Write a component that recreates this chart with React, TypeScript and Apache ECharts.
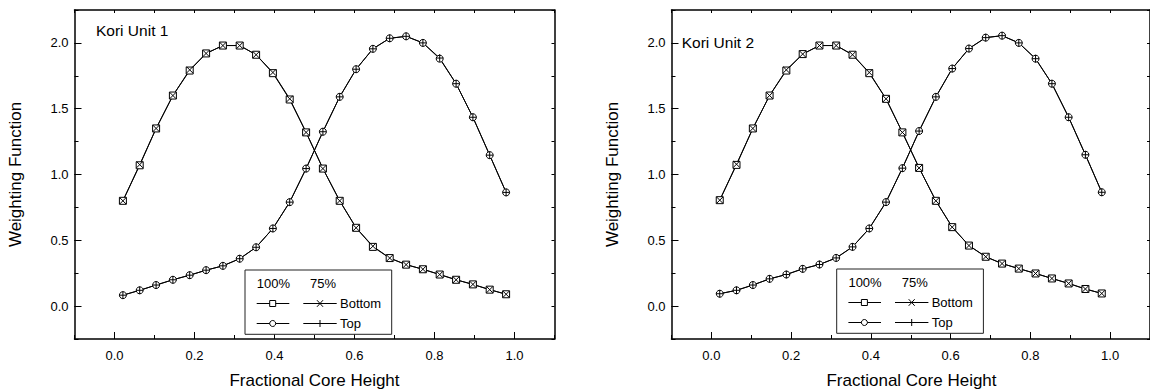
import React, { useEffect, useRef } from "react";
import * as echarts from "echarts";

// Fractional core height of each of the 24 axial nodes
const heights = [
  0.021, 0.063, 0.104, 0.146, 0.188, 0.229, 0.271, 0.313, 0.354, 0.396, 0.438, 0.479,
  0.521, 0.563, 0.604, 0.646, 0.688, 0.729, 0.771, 0.813, 0.854, 0.896, 0.938, 0.979,
];

// Kori Unit 1
const unit1Bottom100 = [0.8, 1.07, 1.35, 1.6, 1.79, 1.92, 1.98, 1.98, 1.91, 1.77, 1.57, 1.32, 1.045, 0.8, 0.595, 0.45, 0.365, 0.315, 0.28, 0.24, 0.2, 0.165, 0.125, 0.09];
const unit1Bottom75 = [0.8, 1.075, 1.35, 1.6, 1.795, 1.92, 1.98, 1.98, 1.91, 1.775, 1.575, 1.32, 1.045, 0.8, 0.595, 0.455, 0.365, 0.315, 0.28, 0.24, 0.2, 0.165, 0.125, 0.09];
const unit1Top100 = [0.083, 0.12, 0.16, 0.2, 0.235, 0.273, 0.306, 0.36, 0.447, 0.59, 0.79, 1.045, 1.325, 1.59, 1.8, 1.955, 2.035, 2.05, 2.0, 1.88, 1.69, 1.435, 1.147, 0.864];
const unit1Top75 = [0.083, 0.12, 0.16, 0.2, 0.235, 0.273, 0.306, 0.36, 0.447, 0.59, 0.79, 1.045, 1.325, 1.59, 1.8, 1.955, 2.035, 2.05, 2.0, 1.885, 1.69, 1.435, 1.147, 0.864];

// Kori Unit 2
const unit2Bottom100 = [0.805, 1.073, 1.35, 1.6, 1.79, 1.915, 1.98, 1.98, 1.91, 1.77, 1.575, 1.32, 1.05, 0.8, 0.6, 0.46, 0.375, 0.323, 0.285, 0.248, 0.21, 0.172, 0.13, 0.096];
const unit2Bottom75 = [0.805, 1.078, 1.35, 1.6, 1.795, 1.915, 1.98, 1.98, 1.91, 1.775, 1.575, 1.32, 1.05, 0.8, 0.6, 0.46, 0.375, 0.323, 0.285, 0.248, 0.21, 0.172, 0.13, 0.096];
const unit2Top100 = [0.094, 0.12, 0.16, 0.207, 0.24, 0.283, 0.316, 0.366, 0.45, 0.59, 0.79, 1.048, 1.33, 1.59, 1.805, 1.957, 2.04, 2.055, 2.0, 1.88, 1.69, 1.435, 1.15, 0.865];
const unit2Top75 = [0.094, 0.12, 0.16, 0.207, 0.24, 0.283, 0.316, 0.366, 0.45, 0.59, 0.79, 1.048, 1.33, 1.59, 1.805, 1.957, 2.04, 2.055, 2.0, 1.88, 1.69, 1.435, 1.15, 0.865];

const xTickLabels = [0, 0.2, 0.4, 0.6, 0.8, 1.0];
const yTickLabels = [0, 0.5, 1.0, 1.5, 2.0];
const panelTitles = ["Kori Unit 1", "Kori Unit 2"];
const legendHeader = ["100%", "75%"];
const legendRows = ["Bottom", "Top"];
const xTitle = "Fractional Core Height";
const yTitle = "Weighting Function";

const FONT = '"Liberation Sans", Arial, Helvetica, sans-serif';
const BLACK = "#000";

const panels = [
  { left: 74.5, title: panelTitles[0], tx: 96, ty: 30.5, lx: 245, ly: 270, data: [unit1Bottom100, unit1Bottom75, unit1Top100, unit1Top75] },
  { left: 671.5, title: panelTitles[1], tx: 681.7, ty: 42.8, lx: 836.7, ly: 269, data: [unit2Bottom100, unit2Bottom75, unit2Top100, unit2Top75] },
];
const GRID_TOP = 10;
const GRID_W = 480;
const GRID_H = 329;

function zip(ys: number[]) {
  return heights.map((x, i) => [x, ys[i]]);
}

// custom marker renderers (X for 75% bottom, + for 75% top)
function crossMark(kind: "x" | "plus") {
  return (params: any, api: any) => {
    const pt = api.coord([api.value(0), api.value(1)]);
    const h = 3.2;
    const style = { stroke: BLACK, lineWidth: 1, fill: null };
    if (kind === "x") {
      return {
        type: "group",
        children: [
          { type: "line", shape: { x1: pt[0] - h, y1: pt[1] - h, x2: pt[0] + h, y2: pt[1] + h }, style },
          { type: "line", shape: { x1: pt[0] + h, y1: pt[1] - h, x2: pt[0] - h, y2: pt[1] + h }, style },
        ],
      };
    }
    return {
      type: "group",
      children: [
        { type: "line", shape: { x1: pt[0], y1: pt[1] - 3.8, x2: pt[0], y2: pt[1] + 3.8 }, style },
        { type: "line", shape: { x1: pt[0] - 3.5, y1: pt[1], x2: pt[0] + 3.5, y2: pt[1] }, style },
      ],
    };
  };
}

function legendGraphics(bx: number, by: number) {
  const els: any[] = [];
  const z = 100;
  const txt = (text: string, x: number, y: number) => ({
    type: "text",
    x,
    y,
    z,
    style: { text, fill: BLACK, fontSize: 13, fontFamily: FONT, align: "left", verticalAlign: "middle" },
  });
  const seg = (x1: number, y: number, x2: number) => ({
    type: "line",
    z,
    shape: { x1, y1: y, x2, y2: y },
    style: { stroke: BLACK, lineWidth: 1 },
  });
  els.push({ type: "rect", z, shape: { x: bx, y: by, width: 146.7, height: 64.3 }, style: { fill: "#fff", stroke: "#222", lineWidth: 1 } });
  els.push(txt(legendHeader[0], bx + 11.7, by + 13.7));
  els.push(txt(legendHeader[1], bx + 65, by + 13.7));
  const r2 = by + 33.5;
  const r3 = by + 53.5;
  // row 2 (Bottom)
  els.push(seg(bx + 11.7, r2, bx + 44.3));
  els.push({ type: "rect", z: z + 1, shape: { x: bx + 24.7, y: r2 - 3, width: 6, height: 6 }, style: { fill: "#fff", stroke: BLACK, lineWidth: 1 } });
  els.push(seg(bx + 58.3, r2, bx + 91.7));
  els.push({ type: "line", z: z + 1, shape: { x1: bx + 72, y1: r2 - 3.3, x2: bx + 78, y2: r2 + 3.3 }, style: { stroke: BLACK, lineWidth: 1 } });
  els.push({ type: "line", z: z + 1, shape: { x1: bx + 78, y1: r2 - 3.3, x2: bx + 72, y2: r2 + 3.3 }, style: { stroke: BLACK, lineWidth: 1 } });
  els.push(txt(legendRows[0], bx + 95, by + 33.7));
  // row 3 (Top)
  els.push(seg(bx + 11.7, r3, bx + 44.3));
  els.push({ type: "circle", z: z + 1, shape: { cx: bx + 27.7, cy: r3, r: 3 }, style: { fill: "#fff", stroke: BLACK, lineWidth: 1 } });
  els.push(seg(bx + 58.3, r3, bx + 91.7));
  els.push({ type: "line", z: z + 1, shape: { x1: bx + 75, y1: r3 - 3.5, x2: bx + 75, y2: r3 + 3.5 }, style: { stroke: BLACK, lineWidth: 1 } });
  els.push(txt(legendRows[1], bx + 95, by + 53.7));
  return els;
}

function buildOption() {
  const grid: any[] = [];
  const xAxis: any[] = [];
  const yAxis: any[] = [];
  const series: any[] = [];
  const graphic: any[] = [];

  panels.forEach((p, k) => {
    grid.push({ left: p.left, top: GRID_TOP, width: GRID_W, height: GRID_H, containLabel: false });
    const axisLine = { show: true, onZero: false, lineStyle: { color: BLACK, width: 1.5 } };
    const noLine = { show: false, onZero: false };
    const tickStyle = { color: BLACK, width: 1 };
    // x main (bottom, labels + major ticks)
    xAxis.push({
      type: "value", gridIndex: k, position: "bottom", min: -0.1, max: 1.1,
      axisLine,
      axisTick: { show: true, inside: true, length: 7, customValues: xTickLabels, lineStyle: tickStyle },
      axisLabel: { show: true, customValues: xTickLabels, formatter: (v: number) => v.toFixed(1), margin: 10, color: BLACK, fontSize: 13, fontFamily: FONT },
      splitLine: { show: false },
    });
    // x minor (bottom)
    xAxis.push({
      type: "value", gridIndex: k, position: "bottom", min: -0.1, max: 1.1, interval: 0.1,
      axisLine: noLine,
      axisTick: { show: true, inside: true, length: 4, lineStyle: tickStyle },
      axisLabel: { show: false }, splitLine: { show: false },
    });
    // x top
    xAxis.push({
      type: "value", gridIndex: k, position: "top", min: -0.1, max: 1.1, interval: 0.1,
      axisLine,
      axisTick: { show: true, inside: true, length: 3, lineStyle: tickStyle },
      axisLabel: { show: false }, splitLine: { show: false },
    });
    // y main (left)
    yAxis.push({
      type: "value", gridIndex: k, position: "left", min: -0.25, max: 2.25,
      axisLine,
      axisTick: { show: true, inside: true, length: 7, customValues: yTickLabels, lineStyle: tickStyle },
      axisLabel: { show: true, customValues: yTickLabels, formatter: (v: number) => v.toFixed(1), margin: 6, color: BLACK, fontSize: 13, fontFamily: FONT },
      splitLine: { show: false },
    });
    // y minor (left)
    yAxis.push({
      type: "value", gridIndex: k, position: "left", min: -0.25, max: 2.25, interval: 0.25,
      axisLine: noLine,
      axisTick: { show: true, inside: true, length: 4, lineStyle: tickStyle },
      axisLabel: { show: false }, splitLine: { show: false },
    });
    // y right
    yAxis.push({
      type: "value", gridIndex: k, position: "right", min: -0.25, max: 2.25, interval: 0.25,
      axisLine,
      axisTick: { show: true, inside: true, length: 3, lineStyle: tickStyle },
      axisLabel: { show: false }, splitLine: { show: false },
    });

    const xi = k * 3;
    const yi = k * 3;
    const [b100, b75, t100, t75] = p.data;
    const lineStyle = { color: BLACK, width: 1 };
    const base = { xAxisIndex: xi, yAxisIndex: yi, silent: true };
    series.push({ ...base, type: "line", name: "Bottom 75%", data: zip(b75), symbol: "none", lineStyle, z: 2 });
    series.push({ ...base, type: "line", name: "Top 75%", data: zip(t75), symbol: "none", lineStyle, z: 2 });
    series.push({
      ...base, type: "line", name: "Bottom 100%", data: zip(b100), symbol: "rect", symbolSize: 7, showAllSymbol: true,
      lineStyle, itemStyle: { color: "#fff", borderColor: BLACK, borderWidth: 1 }, z: 3,
    });
    series.push({
      ...base, type: "line", name: "Top 100%", data: zip(t100), symbol: "circle", symbolSize: 7, showAllSymbol: true,
      lineStyle, itemStyle: { color: "#fff", borderColor: BLACK, borderWidth: 1 }, z: 3,
    });
    series.push({
      ...base, type: "custom", name: "Bottom 75% marks", data: zip(b75), renderItem: crossMark("x"), z: 5, clip: false,
      encode: { x: 0, y: 1 },
    });
    series.push({
      ...base, type: "custom", name: "Top 75% marks", data: zip(t75), renderItem: crossMark("plus"), z: 5, clip: false,
      encode: { x: 0, y: 1 },
    });

    // titles
    graphic.push({
      type: "text", x: p.tx, y: p.ty, z: 100,
      style: { text: p.title, fill: BLACK, fontSize: 15.5, fontFamily: FONT, align: "left", verticalAlign: "middle" },
    });
    graphic.push({
      type: "text", x: p.left + GRID_W / 2, y: 380, z: 100,
      style: { text: xTitle, fill: BLACK, fontSize: 17, fontFamily: FONT, align: "center", verticalAlign: "middle" },
    });
    graphic.push({
      type: "text", x: p.left - 59.5, y: GRID_TOP + GRID_H / 2, rotation: Math.PI / 2, z: 100,
      style: { text: yTitle, fill: BLACK, fontSize: 17, fontFamily: FONT, align: "center", verticalAlign: "middle" },
    });
    graphic.push(...legendGraphics(p.lx, p.ly));
  });

  return {
    animation: false,
    backgroundColor: "#fff",
    grid,
    xAxis,
    yAxis,
    series,
    graphic: { elements: graphic },
  };
}

export default function App() {
  const ref = useRef<HTMLDivElement>(null);
  useEffect(() => {
    if (!ref.current) return;
    const chart = echarts.init(ref.current, undefined, { renderer: "svg" });
    chart.setOption(buildOption() as any);
    return () => chart.dispose();
  }, []);
  return (
    <div
      ref={ref}
      style={{ position: "absolute", left: 0, top: 0, width: 1150, height: 392, background: "#fff" }}
    />
  );
}
